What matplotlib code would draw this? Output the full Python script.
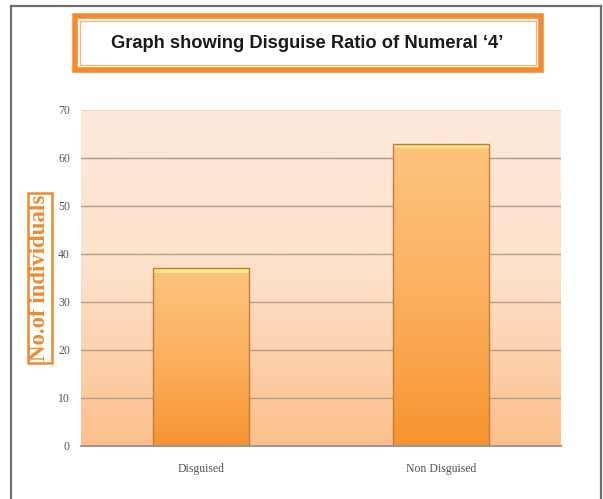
import numpy as np
import matplotlib
matplotlib.use("Agg")
import matplotlib.pyplot as plt
from matplotlib.patches import Rectangle
from matplotlib.lines import Line2D
from matplotlib.colors import LinearSegmentedColormap

categories = ["Disguised", "Non Disguised"]
counts = [37, 63]
y_ticks = [0, 10, 20, 30, 40, 50, 60, 70]
title = "Graph showing Disguise Ratio of Numeral \u20184\u2019"
y_label = "No.of individuals"

W, H = 603, 499
fig = plt.figure(figsize=(W / 100, H / 100), dpi=100)
fig.patch.set_facecolor("white")

def fx(px):
    return px / W

def fy(py):
    return 1 - py / H

# outer frame of the figure
for xs, ys in [([11, 11], [6, 499]), ([11, 601], [6, 6]), ([601, 601], [6, 499])]:
    fig.add_artist(Line2D([fx(x) for x in xs], [fy(y) for y in ys],
                          transform=fig.transFigure, color="#6e6e6e", lw=1.6))

# title box with double orange border
fig.add_artist(Rectangle((fx(75), fy(70)), fx(541) - fx(75), fy(16) - fy(70),
                         transform=fig.transFigure, facecolor="white",
                         edgecolor="#f58a2c", lw=4.0))
fig.add_artist(Rectangle((fx(80), fy(65)), fx(536) - fx(80), fy(21) - fy(65),
                         transform=fig.transFigure, facecolor="none",
                         edgecolor="#f9b57c", lw=1.0))
fig.text(fx(307), fy(44), title, ha="center", va="center", fontsize=13.2,
         fontweight="bold", color="#1a1a1a",
         family=["Liberation Sans", "DejaVu Sans"])

# plot area
ax = fig.add_axes([fx(81), fy(446), fx(561) - fx(81), fy(110) - fy(446)])

bg_cmap = LinearSegmentedColormap.from_list("bg", ["#fcbf8c", "#fde0c8", "#fdeadd"])
grad = np.linspace(0, 1, 256).reshape(-1, 1)
ax.imshow(grad, cmap=bg_cmap, origin="lower", aspect="auto",
          extent=(-0.5, 1.5, 0, 70), zorder=0)

ax.set_yticks(y_ticks)
for t in y_ticks[1:-1]:
    ax.axhline(t, color="#b49a88", lw=1.0, zorder=1)
ax.axhline(y_ticks[-1], color="#f5d7c0", lw=1.0, zorder=1)

x = np.arange(len(categories))
bars = ax.bar(x, counts, width=0.4, color="none", edgecolor="#c97a35",
               lw=1.0, zorder=3)
bar_cmap = LinearSegmentedColormap.from_list("bar", ["#f79430", "#fbb060", "#fdc47e"])
for b in bars:
    x0, y0 = b.get_x(), b.get_y()
    w, h = b.get_width(), b.get_height()
    im = ax.imshow(grad, cmap=bar_cmap, origin="lower", aspect="auto",
                   extent=(x0, x0 + w, y0, y0 + h), zorder=2)
    im.set_clip_path(b)
    # light rim along the top of the bar
    ax.add_patch(Rectangle((x0, y0 + h - 0.9), w, 0.9, facecolor="#fde88a",
                           edgecolor="none", zorder=2.5))
ax.set_xlim(-0.5, 1.5)
ax.set_ylim(0, 70)

ax.set_xticks(x)
ax.set_xticklabels(categories)
for s in ["top", "right", "left"]:
    ax.spines[s].set_visible(False)
ax.spines["bottom"].set_color("#9a9a9a")
ax.spines["bottom"].set_linewidth(1.5)
ax.tick_params(axis="both", length=0, colors="#555555", labelsize=8.5)
ax.tick_params(axis="x", pad=12)
ax.tick_params(axis="y", pad=8)
for lab in ax.get_xticklabels() + ax.get_yticklabels():
    lab.set_family(["Liberation Serif", "DejaVu Serif"])
    lab.set_color("#555555")

# y axis title in an orange box
fig.text(fx(40), fy(278), y_label, rotation=90, ha="center", va="center",
         fontsize=16.5, fontweight="bold", color="#f08a30",
         family=["Liberation Serif", "DejaVu Serif"],
         bbox=dict(boxstyle="square,pad=0.08", facecolor="white",
                   edgecolor="#f08a30", lw=1.8))

fig.savefig("out.png", dpi=100)
